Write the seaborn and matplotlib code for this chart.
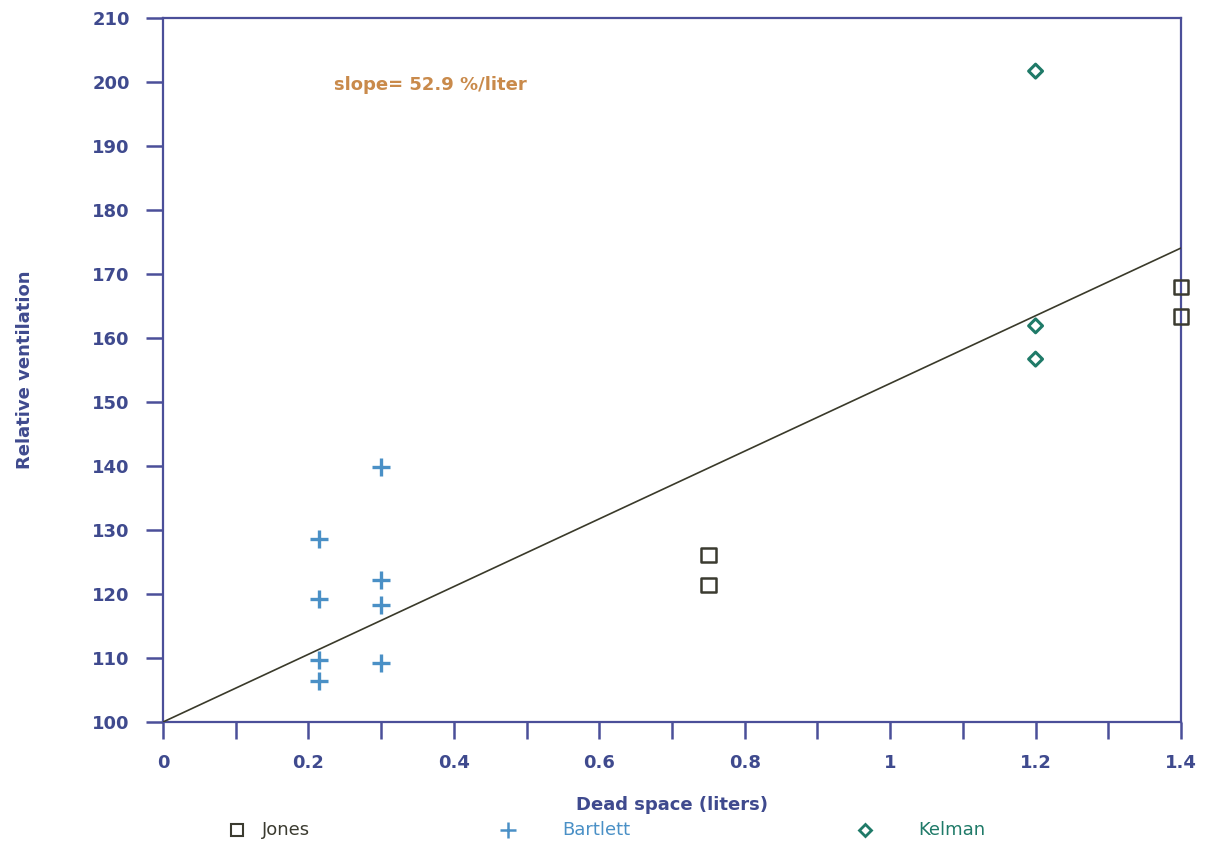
import numpy as np
import pandas as pd
import matplotlib
matplotlib.use("Agg")
import matplotlib.pyplot as plt
import seaborn as sns
from matplotlib.lines import Line2D
from matplotlib.ticker import MultipleLocator

# ---- data ----
jones_x = [0.75, 0.75, 1.40, 1.40]
jones_y = [126.1, 121.4, 168.0, 163.4]
bartlett_x = [0.215, 0.215, 0.215, 0.215, 0.30, 0.30, 0.30, 0.30]
bartlett_y = [128.6, 119.2, 109.7, 106.4, 139.8, 122.2, 118.3, 109.2]
kelman_x = [1.20, 1.20, 1.20]
kelman_y = [201.7, 161.9, 156.7]
fit_intercept = 100.0
fit_slope = 52.9
x_ticks = [0, 0.2, 0.4, 0.6, 0.8, 1, 1.2, 1.4]
x_tick_labels = ["0", "0.2", "0.4", "0.6", "0.8", "1", "1.2", "1.4"]
y_ticks = [100, 110, 120, 130, 140, 150, 160, 170, 180, 190, 200, 210]

sns.set_theme(style="white")
plt.rcParams['font.family'] = ['DejaVu Sans']

AXC = "#4b4f99"
TXT = "#3f4a8e"
C_J = "#3b3b30"
C_B = "#4a90c6"
C_K = "#1f7a68"
C_ANN = "#c98a4b"

fig = plt.figure(figsize=(12.05, 8.46), dpi=100)
ax = fig.add_axes([163/1205, 1-722/846, (1181-163)/1205, (722-18)/846])

df = pd.DataFrame({
    "x": jones_x + bartlett_x + kelman_x,
    "y": jones_y + bartlett_y + kelman_y,
    "src": ["Jones"]*len(jones_x) + ["Bartlett"]*len(bartlett_x) + ["Kelman"]*len(kelman_x),
})

sns.scatterplot(data=df[df.src == "Jones"], x="x", y="y", marker="s", s=110,
                facecolors="none", edgecolor=C_J, linewidth=1.8, ax=ax, legend=False, clip_on=False, zorder=4)
sns.scatterplot(data=df[df.src == "Bartlett"], x="x", y="y", marker="+", s=170,
                color=C_B, linewidth=2.4, ax=ax, legend=False, zorder=4)
sns.scatterplot(data=df[df.src == "Kelman"], x="x", y="y", marker="D", s=50,
                facecolors="none", edgecolor=C_K, linewidth=2.2, ax=ax, legend=False, zorder=4)

fx = np.array([x_ticks[0], x_ticks[-1]])
sns.lineplot(x=fx, y=fit_intercept + fit_slope*fx, color="#3a3a2a", linewidth=1.2, ax=ax, zorder=3)

ax.set_xlim(0, 1.4)
ax.set_ylim(100, 210)
ax.set_xticks(x_ticks)
ax.set_xticklabels(x_tick_labels)
ax.xaxis.set_minor_locator(MultipleLocator(0.1))
ax.set_yticks(y_ticks)
for s in ax.spines.values():
    s.set_color(AXC)
    s.set_linewidth(1.6)
ax.tick_params(axis="both", which="both", direction="out", color=AXC, width=1.8,
               labelcolor=TXT, labelsize=13)
ax.tick_params(axis="x", which="major", length=12, pad=11)
ax.tick_params(axis="x", which="minor", length=12)
ax.tick_params(axis="y", which="major", length=12, pad=12)
ax.tick_params(bottom=True, left=True, which="both")
for lab in ax.get_xticklabels() + ax.get_yticklabels():
    lab.set_fontweight("bold")

ax.set_xlabel("Dead space (liters)", color=TXT, fontsize=13, fontweight="bold", labelpad=17)
ax.set_ylabel("Relative ventilation", color=TXT, fontsize=13, fontweight="bold", labelpad=42)

ax.text(0.235, 199.6, "slope= 52.9 %/liter", color=C_ANN, fontsize=13, fontweight="bold",
        va="center", ha="left")

# legend entries below the plot
entries = [("Jones", "s", C_J, 237, 262, 9, 1.5),
           ("Bartlett", "+", C_B, 508, 562, 11, 1.8),
           ("Kelman", "D", C_K, 865, 918, 6, 2.0)]
for name, mk, col, mx, tx, ms, mw in entries:
    fig.add_artist(Line2D([mx/1205], [1-830/846], marker=mk, markersize=ms,
                          markerfacecolor="none", markeredgecolor=col, markeredgewidth=mw,
                          linestyle="none", transform=fig.transFigure))
    fig.text(tx/1205, 1-830/846, name, color=col, fontsize=13, fontweight="medium",
             va="center", ha="left")

fig.savefig("out.png", dpi=100)
